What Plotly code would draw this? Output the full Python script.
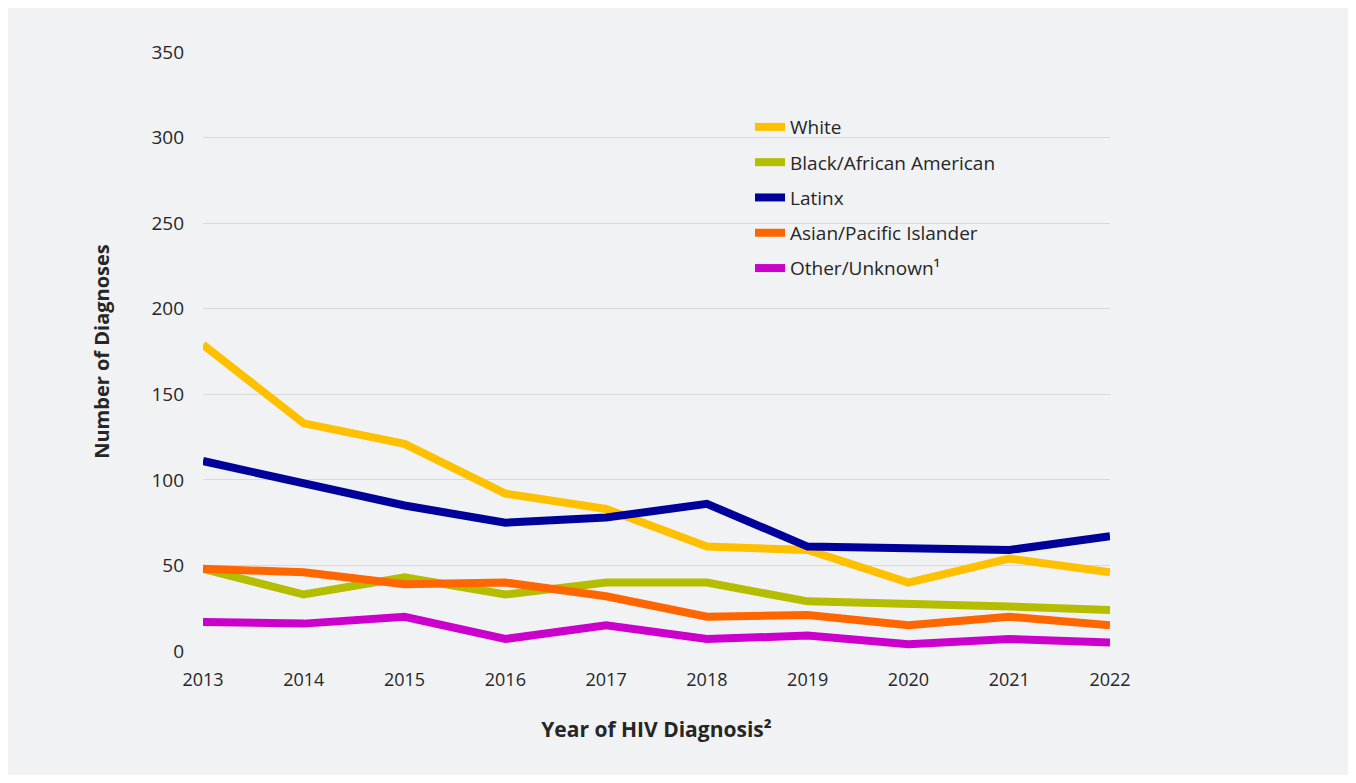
import plotly.graph_objects as go

# Reference chart: HIV diagnoses by race/ethnicity, 2013-2022
years = [2013, 2014, 2015, 2016, 2017, 2018, 2019, 2020, 2021, 2022]

white = [179, 133, 121, 92, 83, 61, 59, 40, 54, 46]
black = [48, 33, 43, 33, 40, 40, 29, 28, 26, 24]
latinx = [111, 98, 85, 75, 78, 86, 61, 60, 59, 67]
asian = [48, 46, 39, 40, 32, 20, 21, 15, 20, 15]
other = [17, 16, 20, 7, 15, 7, 9, 4, 7, 5]

series_names = ["White", "Black/African American", "Latinx",
                "Asian/Pacific Islander", "Other/Unknown\u00b9"]
series_values = [white, black, latinx, asian, other]
series_colors = ["#FFC000", "#B5BD00", "#00009A", "#FF6600", "#CC00CC"]

y_ticks = [0, 50, 100, 150, 200, 250, 300, 350]

# the page body has an 8px margin, so the figure itself is the grey panel
W, H = 1342, 767
_font = "Open Sans, Segoe UI, sans-serif"
_txt = "#262626"
_panel = "#F1F2F4"

fig = go.Figure()
# draw order: back-most first so latinx/asian sit on top like the source
draw_order = [1, 0, 2, 3, 4]
for i in draw_order:
    fig.add_trace(go.Scatter(
        x=years, y=series_values[i], name=series_names[i],
        mode="lines", legendgroup=series_names[i], legendrank=i + 1,
        line=dict(color=series_colors[i], width=8),
        hoverinfo="x+y+name",
    ))

ml, mt, mr, mb = 195, 44, 240, 124
ph = H - mt - mb
pw = W - ml - mr

def to_paper_x(x):
    return (x - ml) / pw

def to_paper_y(y):
    return (H - mb - y) / ph

fig.update_layout(
    width=W, height=H,
    autosize=False,
    margin=dict(l=ml, r=mr, t=mt, b=mb, pad=0),
    paper_bgcolor=_panel,
    plot_bgcolor=_panel,
    font=dict(family=_font, size=18, color=_txt),
    showlegend=True,
    legend=dict(
        x=to_paper_x(742), y=to_paper_y(100), xanchor="left", yanchor="top",
        bgcolor="rgba(0,0,0,0)", borderwidth=0,
        font=dict(family=_font, size=19, color=_txt),
        tracegroupgap=7.6, itemwidth=30, traceorder="grouped",
    ),
    xaxis=dict(
        range=[2013, 2022], tickmode="array", tickvals=years,
        ticktext=[str(y) for y in years],
        showgrid=False, zeroline=False, showline=False,
        tickfont=dict(size=18, color=_txt), ticks="",
        ticklabelstandoff=16,
        title=dict(text="<b>Year of HIV Diagnosis\u00b2</b>", standoff=32,
                   font=dict(size=21, color=_txt)),
    ),
    yaxis=dict(
        range=[0, 350], tickmode="array", tickvals=y_ticks,
        showgrid=True, gridcolor="#D9D9D9", gridwidth=1,
        zeroline=False, showline=False, ticks="",
        ticklabelstandoff=18,
        tickfont=dict(size=19, color=_txt),
        title=dict(text="<b>Number of Diagnoses</b>", standoff=36,
                   font=dict(size=20, color=_txt)),
    ),
)

fig.write_html("out.html")
